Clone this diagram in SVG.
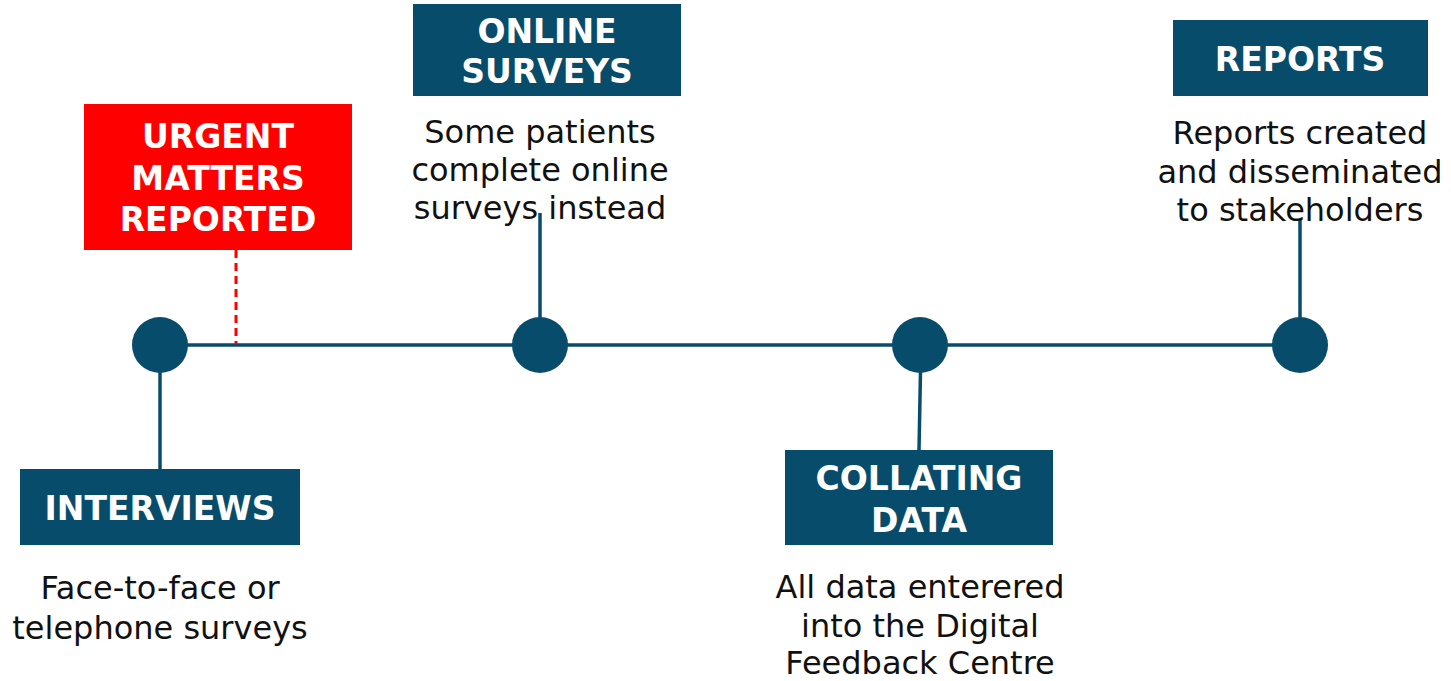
<svg xmlns="http://www.w3.org/2000/svg" width="1451" height="681" viewBox="0 0 1451 681">
<style>
.box{fill:#084C6B}
.red{fill:#FF0000}
.title{font-family:"DejaVu Sans","Open Sans",sans-serif;font-weight:bold;font-size:33px;fill:#fff;text-anchor:middle}
.body{font-family:"DejaVu Sans","Open Sans",sans-serif;font-size:32px;fill:#111;text-anchor:middle}
.ln{stroke:#084C6B;stroke-width:3.5;fill:none}
.dot{fill:#084C6B}
</style>
<rect width="1451" height="681" fill="#fff"/>
<g id="connectors">
<line class="ln" x1="160" y1="345" x2="1300" y2="345"/>
<line class="ln" x1="160" y1="345" x2="160" y2="469"/>
<line class="ln" x1="540" y1="213" x2="540" y2="345"/>
<line class="ln" x1="921" y1="345" x2="919" y2="450"/>
<line class="ln" x1="1300" y1="220" x2="1300" y2="345"/>
<line x1="236" y1="250" x2="236" y2="344" stroke="#FF0000" stroke-width="3" stroke-dasharray="8,5"/>
</g>
<g id="dots">
<circle class="dot" cx="160" cy="345" r="28"/>
<circle class="dot" cx="540" cy="345" r="28"/>
<circle class="dot" cx="920" cy="345" r="28"/>
<circle class="dot" cx="1300" cy="345" r="28"/>
</g>
<g id="urgent">
<rect class="red" x="84" y="104" width="268" height="146"/>
<text class="title" x="218" y="148">URGENT</text>
<text class="title" x="218" y="190">MATTERS</text>
<text class="title" x="218" y="231">REPORTED</text>
</g>
<g id="interviews">
<rect class="box" x="20" y="469" width="280" height="76"/>
<text class="title" x="160" y="520">INTERVIEWS</text>
<text class="body" x="160" y="599">Face-to-face or</text>
<text class="body" x="160" y="639">telephone surveys</text>
</g>
<g id="online">
<rect class="box" x="413" y="4" width="268" height="92"/>
<text class="title" x="547" y="43">ONLINE</text>
<text class="title" x="547" y="83">SURVEYS</text>
<text class="body" x="540" y="143">Some patients</text>
<text class="body" x="540" y="181">complete online</text>
<text class="body" x="540" y="219">surveys instead</text>
</g>
<g id="collating">
<rect class="box" x="785" y="450" width="268" height="95"/>
<text class="title" x="919" y="490">COLLATING</text>
<text class="title" x="919" y="532">DATA</text>
<text class="body" x="920" y="598">All data enterered</text>
<text class="body" x="920" y="637">into the Digital</text>
<text class="body" x="920" y="674">Feedback Centre</text>
</g>
<g id="reports">
<rect class="box" x="1173" y="20" width="255" height="76"/>
<text class="title" x="1300" y="71">REPORTS</text>
<text class="body" x="1300" y="144">Reports created</text>
<text class="body" x="1300" y="183">and disseminated</text>
<text class="body" x="1300" y="221">to stakeholders</text>
</g>
</svg>
